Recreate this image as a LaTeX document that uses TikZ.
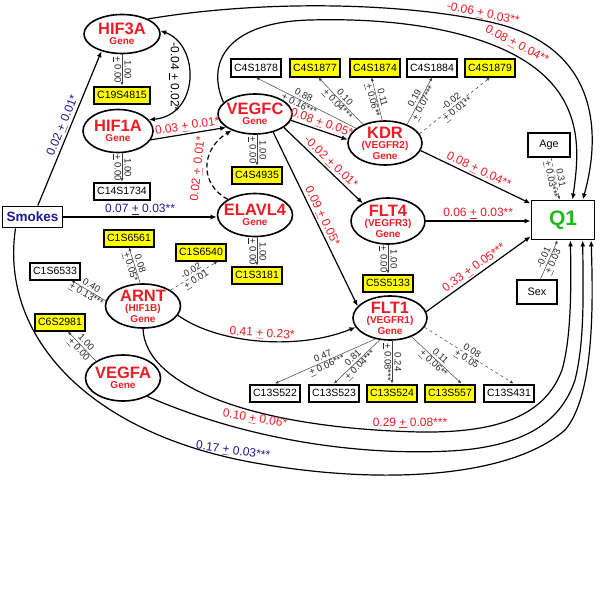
\documentclass[tikz,border=0pt]{standalone}
\usepackage{fontspec}
\setmainfont{Liberation Sans}
\usetikzlibrary{shapes.geometric,arrows.meta,calc}
\definecolor{gred}{RGB}{237,28,36}
\definecolor{navy}{RGB}{25,25,145}
\definecolor{qgreen}{RGB}{30,185,30}
\definecolor{yel}{RGB}{255,255,0}
\newcommand\pmx{\underline{+}}
\newcommand\gname[1]{{\fontsize{16.5}{17}\selectfont #1}}
\begin{document}
\begin{tikzpicture}[x=1pt,y=-1pt,
 gene/.style={ellipse, draw, line width=1.6pt, inner sep=0pt, minimum width=75pt, minimum height=42pt},
 gtxt/.style={align=center, text=gred, inner sep=0pt, font=\bfseries\fontsize{10}{10.5}\selectfont},
 snp/.style={rectangle, draw, line width=2pt, inner xsep=3.5pt, inner ysep=0pt, minimum height=17pt, font=\fontsize{10.5}{11}\selectfont},
 ysnp/.style={snp, fill=yel},
 wsnp/.style={snp, fill=white},
 obox/.style={rectangle, draw, line width=1.9pt, inner sep=1pt},
 sarr/.style={line width=1.2pt, -{Latex[length=6pt,width=5pt]}},
 larr/.style={line width=0.5pt, draw=black!75, -{Latex[length=3.5pt,width=3pt]}},
 plab/.style={font=\fontsize{12}{13}\selectfont, inner sep=1.5pt},
 llab/.style={font=\fontsize{9.5}{10}\selectfont, align=center, inner sep=0.5pt, text=black!85},
]
\useasboundingbox (0,0) rectangle (600,610);

% genes
\node[gene, minimum width=76pt, minimum height=39pt, label={[gtxt]center:{\gname{HIF3A}\\Gene}}] (HIF3A) at (122,34) {};
\node[gene, minimum width=70pt, minimum height=43pt, label={[gtxt]center:{\gname{HIF1A}\\Gene}}] (HIF1A) at (118,131) {};
\node[gene, minimum width=74pt, minimum height=40pt, label={[gtxt]center:{\gname{VEGFC}\\Gene}}] (VEGFC) at (255,114) {};
\node[gene, minimum width=74pt, minimum height=44pt, label={[gtxt]center:{\gname{KDR}\\(VEGFR2)\\Gene}}] (KDR) at (385,143) {};
\node[gene, minimum width=75pt, minimum height=43pt, label={[gtxt]center:{\gname{ELAVL4}\\Gene}}] (ELAVL4) at (255,215) {};
\node[gene, minimum width=74pt, minimum height=46pt, label={[gtxt]center:{\gname{FLT4}\\(VEGFR3)\\Gene}}] (FLT4) at (388,221) {};
\node[gene, minimum width=74pt, minimum height=44pt, label={[gtxt]center:{\gname{FLT1}\\(VEGFR1)\\Gene}}] (FLT1) at (390,318) {};
\node[gene, minimum width=75pt, minimum height=44pt, label={[gtxt]center:{\gname{ARNT}\\(HIF1B)\\Gene}}] (ARNT) at (143,306) {};
\node[gene, minimum width=75pt, minimum height=46pt, label={[gtxt]center:{\gname{VEGFA}\\Gene}}] (VEGFA) at (123,378) {};

% observed boxes
\node[obox, minimum width=60pt, minimum height=21pt, text=navy, font=\bfseries\fontsize{13.5}{14}\selectfont] (Smokes) at (32.5,217) {Smokes};
\node[obox, minimum width=63pt, minimum height=39pt, text=qgreen, font=\bfseries\fontsize{21}{22}\selectfont] (Q1) at (563,220) {Q1};
\node[obox, line width=1.6pt, minimum width=42pt, minimum height=24pt, font=\fontsize{10.8}{11}\selectfont] (Age) at (549,145) {Age};
\node[obox, line width=1.6pt, minimum width=40pt, minimum height=24pt, font=\fontsize{10.8}{11}\selectfont] (Sex) at (537,292) {Sex};

% SNP boxes
\node[ysnp] (C19S4815) at (122,95) {C19S4815};
\node[wsnp] (C14S1734) at (122,191) {C14S1734};
\node[wsnp] (C4S1878) at (256,68) {C4S1878};
\node[ysnp] (C4S1877) at (315,68) {C4S1877};
\node[ysnp] (C4S1874) at (375,68) {C4S1874};
\node[wsnp] (C4S1884) at (432,68) {C4S1884};
\node[ysnp] (C4S1879) at (490,68) {C4S1879};
\node[ysnp] (C4S4935) at (257,175) {C4S4935};
\node[ysnp] (C1S6561) at (129,238) {C1S6561};
\node[ysnp] (C1S6540) at (201,252) {C1S6540};
\node[ysnp] (C1S3181) at (257,275) {C1S3181};
\node[wsnp] (C1S6533) at (55,271) {C1S6533};
\node[ysnp] (C6S2981) at (60,322) {C6S2981};
\node[ysnp] (C5S5133) at (388,283) {C5S5133};
\node[wsnp] (C13S522) at (275,393) {C13S522};
\node[wsnp] (C13S523) at (334,393) {C13S523};
\node[ysnp] (C13S524) at (392,393) {C13S524};
\node[ysnp] (C13S557) at (450,393) {C13S557};
\node[wsnp] (C13S431) at (509,393) {C13S431};

% loadings
\draw[larr] (HIF3A.south) -- node[llab, midway, rotate=-90] (lb1) {1.00\\\pmx\ 0.00} (C19S4815.north);
\draw[larr] (C14S1734.north |- HIF1A.south) -- node[llab, midway, rotate=-90] (lb2) {1.00\\\pmx\ 0.00} (C14S1734.north);
\draw[larr] (C4S4935.north |- VEGFC.south) -- node[llab, midway, rotate=-90] (lb3) {1.00\\\pmx\ 0.00} (C4S4935.north);
\draw[larr] (C1S3181.north |- ELAVL4.south) -- node[llab, midway, rotate=-90] (lb4) {1.00\\\pmx\ 0.00} (C1S3181.north);
\draw[larr] (C5S5133.north |- FLT4.south) -- node[llab, midway, rotate=-90] (lb5) {1.00\\\pmx\ 0.00} (C5S5133.north);
\draw[larr] (KDR.153) -- node[llab, sloped, pos=0.55] (lb6) {0.88\\\pmx\ 0.16***} (C4S1878.south);
\draw[larr] (KDR.140) -- node[llab, sloped, pos=0.5] (lb7) {0.10\\\pmx\ 0.04***} (C4S1877.-70);
\draw[larr] (KDR.97) -- node[llab, sloped, pos=0.5] (lb8) {0.11\\\pmx\ 0.06**} (C4S1874.-110);
\draw[larr] (KDR.40) -- node[llab, sloped, pos=0.5] (lb9) {0.19\\\pmx\ 0.07***} (C4S1884.south);
\draw[larr, dashed] (KDR.15) -- node[llab, sloped, pos=0.5] (lb10) {-0.02\\\pmx\ 0.01**} (C4S1879.south);
\draw[larr] (FLT1.-125) -- node[llab, sloped, pos=0.5] (lb11) {0.47\\\pmx\ 0.06***} (C13S522.north);
\draw[larr] (FLT1.-115) -- node[llab, sloped, pos=0.5] (lb12) {0.81\\\pmx\ 0.04***} (C13S523.north);
\draw[larr] (C13S524.north |- FLT1.south) -- node[llab, midway, rotate=-90] (lb13) {0.24\\\pmx\ 0.08***} (C13S524.north);
\draw[larr] (FLT1.-41) -- node[llab, sloped, pos=0.5] (lb14) {0.11\\\pmx\ 0.06**} (C13S557.40);
\draw[larr, dashed] (FLT1.-15) -- node[llab, sloped, pos=0.5] (lb15) {0.08\\\pmx\ 0.05} (C13S431.65);
\draw[larr] (ARNT.97) -- node[llab, sloped, pos=0.5] (lb16) {0.08\\\pmx\ 0.05*} (C1S6561.south);
\draw[larr] (ARNT.172) -- node[llab, sloped, pos=0.5] (lb17) {0.40\\\pmx\ 0.13***} (C1S6533.-30);
\draw[larr, dashed] (ARNT.30) -- node[llab, sloped, pos=0.5] (lb18) {-0.02\\\pmx\ 0.01} (C1S6540.-30);
\draw[larr] (VEGFA.148) -- node[llab, sloped, pos=0.5] (lb19) {1.00\\\pmx\ 0.00} (C6S2981.-50);
\draw[larr, dashed] (Age.-80) -- node[llab, sloped, pos=0.5] (lb20) {0.31\\\pmx\ 0.03***} (Q1.100);
\draw[larr] (Sex.75) -- node[llab, sloped, pos=0.5] (lb21) {-0.01\\\pmx\ 0.03} (Q1.-105);

% structural paths
\draw[sarr] (Smokes.65) -- node[plab, sloped, above, text=navy] (p1) {0.02 \pmx\ 0.01*} (HIF3A.220);
\draw[sarr] (Smokes.east) -- node[plab, above, text=navy] (p2) {0.07 \pmx\ 0.03**} (Smokes.east -| ELAVL4.west);
\draw[line width=1.2pt, {Latex[length=6pt,width=5pt]}-{Latex[length=6pt,width=5pt]}] (HIF3A.5) .. controls (200,45) and (200,115) .. (HIF1A.20);
\node[plab, rotate=-90] (p3) at (174,77) {-0.04 \pmx\ 0.02*};
\draw[sarr] (HIF1A.-15) -- node[plab, sloped, above, text=gred] (p4) {0.03 \pmx\ 0.01*} (VEGFC.205);
\draw[sarr, dash pattern=on 5pt off 3pt] (ELAVL4.150) .. controls (200,185) and (200,150) .. (VEGFC.215);
\node[plab, text=gred, rotate=84] (p5) at (198,169) {0.02 \pmx\ 0.01*};
\draw[sarr] (VEGFC.-10) -- node[plab, sloped, above, text=gred] (p6) {0.08 \pmx\ 0.05*} (KDR.175);
\draw[sarr] (VEGFC.-25) -- node[plab, sloped, above, text=gred, pos=0.53] (p7) {-0.02 \pmx\ 0.01*} (FLT4.145);
\draw[sarr] (VEGFC.-45) -- node[plab, sloped, above, text=gred] (p8) {0.09 \pmx\ 0.05*} (FLT1.160);
\draw[sarr] (ARNT.-15) .. controls (220,345) and (300,350) .. node[plab, sloped, above, text=gred] (p9) {0.41 \pmx\ 0.23*} (FLT1.195);
\draw[sarr] (KDR.-12) -- node[plab, sloped, above, text=gred] (p10) {0.08 \pmx\ 0.04**} (Q1.153);
\draw[sarr] (FLT4.east) -- node[plab, above, text=gred] (p11) {0.06 \pmx\ 0.03**} (FLT4.east -| Q1.west);
\draw[sarr] (FLT1.10) -- node[plab, sloped, above, text=gred] (p12) {0.33 \pmx\ 0.05***} (Q1.207);

% long curves to Q1 (top)
\draw[sarr] (HIF3A.30) .. controls (260,0) and (400,2) .. (490,22) .. controls (610,48) and (597,150) .. (Q1.46);
\draw[sarr] (VEGFC.160) .. controls (205,60) and (230,22) .. (310,20) .. controls (420,17) and (500,38) .. (540,72) .. controls (585,110) and (578,160) .. (Q1.65);
\node[plab, text=gred, rotate=-12] (p13) at (483,14) {-0.06 \pmx\ 0.03**};
\node[plab, text=gred, rotate=-28] (p14) at (517,45) {0.08 \pmx\ 0.04**};

% long curves to Q1 (bottom)
\draw[sarr] (ARNT.south) .. controls (145,385) and (250,428) .. (420,432) .. controls (500,433) and (545,415) .. (562,370) .. controls (572,335) and (571,280) .. (Q1.-70);
\draw[sarr] (VEGFA.-37) .. controls (240,437) and (350,456) .. (450,451) .. controls (520,447) and (560,425) .. (575,380) .. controls (585,340) and (583,290) .. (Q1.-46);
\draw[sarr] (Smokes.-146) .. controls (0,330) and (80,430) .. (250,462) .. controls (380,486) and (510,478) .. (565,430) .. controls (595,395) and (593,300) .. (Q1.-36);
\node[plab, text=gred, rotate=-10] (p15) at (255,419) {0.10 \pmx\ 0.06*};
\node[plab, text=gred] (p16) at (410,423) {0.29 \pmx\ 0.08***};
\node[plab, text=navy, rotate=-8] (p17) at (233,451) {0.17 \pmx\ 0.03***};
\end{tikzpicture}
\end{document}
